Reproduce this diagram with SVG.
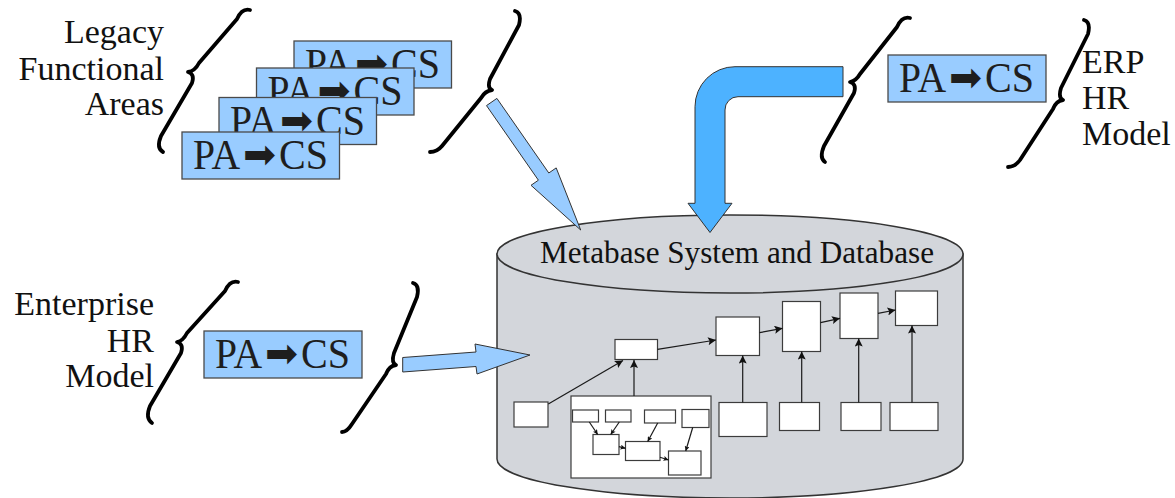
<svg xmlns="http://www.w3.org/2000/svg" width="1175" height="498" viewBox="0 0 1175 498">
  <style>
    .serif{font-family:"Liberation Serif","Times New Roman",serif}
    .lbl{font-size:34px;fill:#111}
    .pa{fill:#99ccff;stroke:#4a4a4a;stroke-width:1.3}
    .pat{font-size:42px;fill:#1e1e1e}
    .arr{font-family:"DejaVu Sans",sans-serif;font-size:40px}
    .brace{fill:none;stroke:#000;stroke-width:3.8;stroke-linecap:round;stroke-linejoin:round}
    .box{fill:#fff;stroke:#3c3c3c;stroke-width:1.2}
    .conn{fill:none;stroke:#1a1a1a;stroke-width:1.2}
    .flow-light{fill:#99ccff;stroke:#333;stroke-width:1}
    .flow-dark{fill:#4db2ff;stroke:#333;stroke-width:1}
    .db{fill:#d3d6db;stroke:#333;stroke-width:1.5}
    .dbt{font-size:32px;fill:#111}
  </style>
  <defs>
    <marker id="ah" viewBox="0 0 10 10" refX="10" refY="5" markerWidth="10" markerHeight="8" markerUnits="userSpaceOnUse" orient="auto">
      <path d="M0,0 L10,5 L0,10 L2,5 Z" fill="#111"/>
    </marker>
    <marker id="ahs" viewBox="0 0 10 10" refX="10" refY="5" markerWidth="6" markerHeight="5" markerUnits="userSpaceOnUse" orient="auto">
      <path d="M0,0 L10,5 L0,10 L2,5 Z" fill="#111"/>
    </marker>
  </defs>

  <!-- Metabase cylinder -->
  <g id="metabase">
    <path class="db" d="M497,254 V459 A233,39 0 0 0 963,459 V254 Z"/>
    <ellipse class="db" cx="730" cy="254" rx="233" ry="39"/>
    <text class="serif dbt" x="540" y="263" textLength="394" lengthAdjust="spacingAndGlyphs">Metabase System and Database</text>
  </g>

  <!-- Legacy functional areas -->
  <g id="legacy">
    <text class="serif lbl" text-anchor="end"><tspan x="164" y="43">Legacy</tspan><tspan x="164" y="80">Functional</tspan><tspan x="164" y="115">Areas</tspan></text>
    <path class="brace" d="M250,10 Q242,8 237,19 L199,63 Q195,71 188,72 Q195,74 192,83 L161,136 Q156,148 163,152"/>
    <path class="brace" d="M515,11 Q522,13 519,25 L490,79 Q487,88 492,90 Q485,91 481,98 L442,146 Q437,152 430,152"/>
  </g>
  <g id="legacy-pa1">
    <rect class="pa" x="294" y="41" width="157.5" height="47"/>
    <text class="serif pat" y="78"><tspan x="305" textLength="47" lengthAdjust="spacingAndGlyphs">PA</tspan><tspan class="arr" x="355" y="77" textLength="33" lengthAdjust="spacingAndGlyphs">➡</tspan><tspan x="391" y="78" textLength="49" lengthAdjust="spacingAndGlyphs">CS</tspan></text>
  </g>
  <g id="legacy-pa2">
    <rect class="pa" x="256.5" y="68" width="157.5" height="47"/>
    <text class="serif pat" y="105"><tspan x="267.5" textLength="47" lengthAdjust="spacingAndGlyphs">PA</tspan><tspan class="arr" x="317.5" y="104" textLength="33" lengthAdjust="spacingAndGlyphs">➡</tspan><tspan x="353.5" y="105" textLength="49" lengthAdjust="spacingAndGlyphs">CS</tspan></text>
  </g>
  <g id="legacy-pa3">
    <rect class="pa" x="219" y="97.5" width="157.5" height="47"/>
    <text class="serif pat" y="134.5"><tspan x="230" textLength="47" lengthAdjust="spacingAndGlyphs">PA</tspan><tspan class="arr" x="280" y="133.5" textLength="33" lengthAdjust="spacingAndGlyphs">➡</tspan><tspan x="316" y="134.5" textLength="49" lengthAdjust="spacingAndGlyphs">CS</tspan></text>
  </g>
  <g id="legacy-pa4">
    <rect class="pa" x="182" y="132" width="157.5" height="47"/>
    <text class="serif pat" y="169"><tspan x="193" textLength="47" lengthAdjust="spacingAndGlyphs">PA</tspan><tspan class="arr" x="243" y="168" textLength="33" lengthAdjust="spacingAndGlyphs">➡</tspan><tspan x="279" y="169" textLength="49" lengthAdjust="spacingAndGlyphs">CS</tspan></text>
  </g>

  <!-- ERP HR model -->
  <g id="erp">
    <path class="brace" d="M910,18 Q902,16 897,27 L860,74 Q856,81 850,82 Q857,84 854,93 L824,146 Q819,158 825,162"/>
    <rect class="pa" x="888" y="55" width="158" height="47"/>
    <text class="serif pat" y="92"><tspan x="899" textLength="47" lengthAdjust="spacingAndGlyphs">PA</tspan><tspan class="arr" x="949" y="91" textLength="33" lengthAdjust="spacingAndGlyphs">➡</tspan><tspan x="985" y="92" textLength="49" lengthAdjust="spacingAndGlyphs">CS</tspan></text>
    <path class="brace" d="M1084,20 Q1091,22 1088,34 L1061,88 Q1058,98 1063,100 Q1056,101 1053,109 L1020,160 Q1015,167 1008,167"/>
    <text class="serif lbl"><tspan x="1082" y="73">ERP</tspan><tspan x="1082" y="109">HR</tspan><tspan x="1082" y="145">Model</tspan></text>
  </g>

  <!-- Enterprise HR model -->
  <g id="enterprise">
    <text class="serif lbl" text-anchor="end"><tspan x="154" y="315">Enterprise</tspan><tspan x="154" y="352">HR</tspan><tspan x="154" y="387">Model</tspan></text>
    <path class="brace" d="M238,282 Q230,280 225,291 L187,333 Q183,341 177,342 Q184,344 181,353 L150,406 Q145,418 152,423"/>
    <rect class="pa" x="204" y="331" width="158" height="47"/>
    <text class="serif pat" y="368"><tspan x="215" textLength="47" lengthAdjust="spacingAndGlyphs">PA</tspan><tspan class="arr" x="265" y="367" textLength="33" lengthAdjust="spacingAndGlyphs">➡</tspan><tspan x="301" y="368" textLength="49" lengthAdjust="spacingAndGlyphs">CS</tspan></text>
    <path class="brace" d="M413,283 Q420,285 417,297 L394,353 Q391,363 396,365 Q389,366 386,374 L352,424 Q347,432 342,432"/>
  </g>

  <!-- Flows into the metabase -->
  <g id="flows">
    <polygon class="flow-light" points="486.5,105.6 496.9,98.4 548.8,173 556.2,167.9 580.7,230 531,185.3 538.4,180.2"/>
    <path class="flow-dark" d="M843,66.7 H735 A40,40 0 0 0 695,106.7 V203.3 H688 L710,232.5 L732,203.3 H725 V110 A13,13 0 0 1 738,96.7 H843 Z"/>
    <polygon class="flow-light" points="402.7,357.5 476,352 475,344 530,355 477,374 476,366.5 402.7,372"/>
  </g>

  <!-- Internal schema nodes -->
  <g id="n-src"><rect class="box" x="514" y="402" width="34" height="25"/></g>
  <g id="n-group">
    <rect class="box" x="571" y="396" width="140" height="82"/>
    <rect class="box" x="572.5" y="410" width="26" height="12"/>
    <rect class="box" x="605.5" y="410" width="25.5" height="12"/>
    <rect class="box" x="644.5" y="410" width="31" height="13"/>
    <rect class="box" x="682" y="409.5" width="27" height="18"/>
    <rect class="box" x="593" y="434.5" width="26" height="20"/>
    <rect class="box" x="625.5" y="441.5" width="34.5" height="19"/>
    <rect class="box" x="668.5" y="451" width="32.5" height="24"/>
  </g>
  <g id="n-b"><rect class="box" x="615" y="339.5" width="42.5" height="20"/></g>
  <g id="n-c"><rect class="box" x="716" y="317" width="43.5" height="38.5"/></g>
  <g id="n-d"><rect class="box" x="782.5" y="301.5" width="38" height="50"/></g>
  <g id="n-e"><rect class="box" x="840" y="293" width="38" height="45.5"/></g>
  <g id="n-f"><rect class="box" x="895.5" y="291" width="42" height="34.5"/></g>
  <g id="n-b1"><rect class="box" x="719" y="402.5" width="48" height="34"/></g>
  <g id="n-b2"><rect class="box" x="779.5" y="402.5" width="40" height="28"/></g>
  <g id="n-b3"><rect class="box" x="841" y="402.5" width="40" height="28"/></g>
  <g id="n-b4"><rect class="box" x="890" y="402.5" width="48" height="28"/></g>

  <!-- Connectors -->
  <g id="connectors" class="conn">
    <line x1="548.3" y1="404" x2="623" y2="360.5" marker-end="url(#ah)"/>
    <line x1="634" y1="396" x2="634" y2="360" marker-end="url(#ah)"/>
    <line x1="657.5" y1="349.3" x2="716" y2="340" marker-end="url(#ah)"/>
    <line x1="759.5" y1="332.7" x2="782.5" y2="328.3" marker-end="url(#ah)"/>
    <line x1="820.5" y1="322.7" x2="840" y2="318.3" marker-end="url(#ah)"/>
    <line x1="878" y1="313.3" x2="895.5" y2="310" marker-end="url(#ah)"/>
    <line x1="742.7" y1="402.5" x2="742.7" y2="355.5" marker-end="url(#ah)"/>
    <line x1="801.7" y1="402.5" x2="801.7" y2="351.5" marker-end="url(#ah)"/>
    <line x1="858.7" y1="402.5" x2="858.7" y2="338.5" marker-end="url(#ah)"/>
    <line x1="912" y1="402.5" x2="912" y2="325.5" marker-end="url(#ah)"/>
    <line x1="589.3" y1="422" x2="597.7" y2="434.5" marker-end="url(#ahs)"/>
    <line x1="619.3" y1="422" x2="610.7" y2="434.5" marker-end="url(#ahs)"/>
    <line x1="657.7" y1="423" x2="647.7" y2="441.5" marker-end="url(#ahs)"/>
    <line x1="692.7" y1="427.5" x2="685.7" y2="451" marker-end="url(#ahs)"/>
    <line x1="619" y1="446.7" x2="625.5" y2="448.3" marker-end="url(#ahs)"/>
    <line x1="660" y1="457.3" x2="668.5" y2="460" marker-end="url(#ahs)"/>
  </g>
</svg>
